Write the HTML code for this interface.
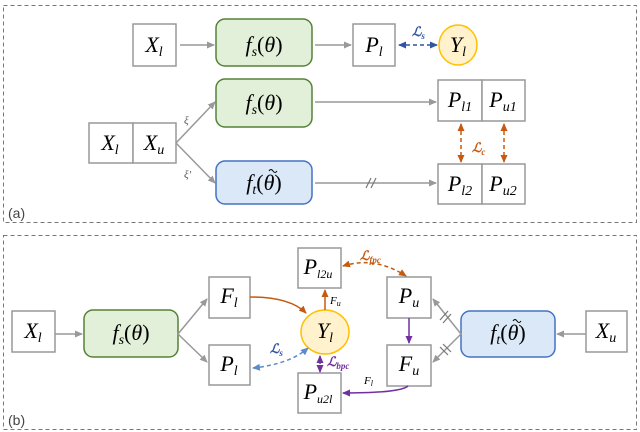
<!DOCTYPE html>
<html><head><meta charset="utf-8"><style>html,body{margin:0;padding:0;background:#fff}svg{display:block}</style></head><body>
<svg width="640" height="432" viewBox="0 0 640 432" xmlns="http://www.w3.org/2000/svg" font-family="Liberation Serif, serif">
<defs>
<marker id="ag" markerWidth="8" markerHeight="8" refX="7" refY="4" orient="auto-start-reverse" markerUnits="userSpaceOnUse"><path d="M0,0.5 L8,4 L0,7.5z" fill="#999"/></marker>
<marker id="ao" markerWidth="8" markerHeight="8" refX="7" refY="4" orient="auto-start-reverse" markerUnits="userSpaceOnUse"><path d="M0,0.5 L8,4 L0,7.5z" fill="#c55a11"/></marker>
<marker id="ab" markerWidth="8" markerHeight="8" refX="7" refY="4" orient="auto-start-reverse" markerUnits="userSpaceOnUse"><path d="M0,0.5 L8,4 L0,7.5z" fill="#2f55a4"/></marker>
<marker id="al" markerWidth="8" markerHeight="8" refX="7" refY="4" orient="auto-start-reverse" markerUnits="userSpaceOnUse"><path d="M0,0.5 L8,4 L0,7.5z" fill="#5b8bc9"/></marker>
<marker id="ap" markerWidth="8" markerHeight="8" refX="7" refY="4" orient="auto-start-reverse" markerUnits="userSpaceOnUse"><path d="M0,0.5 L8,4 L0,7.5z" fill="#7030a0"/></marker>
</defs>
<g fill="none" stroke="#777" stroke-dasharray="4,3" stroke-width="1">
<rect x="3.5" y="5.5" width="633" height="217"/>
<rect x="3.5" y="235.5" width="633" height="194"/>
</g>
<g font-family="Liberation Sans, sans-serif" font-size="14" fill="#444">
<text x="8" y="218">(a)</text><text x="8" y="425">(b)</text>
</g>
<g stroke="#999" stroke-width="1.5" fill="#fff">
<rect x="133" y="24" width="43" height="42"/>
<rect x="353" y="24" width="42" height="42"/>
<rect x="438" y="80" width="44" height="41"/><rect x="482" y="80" width="43" height="41"/>
<rect x="89" y="123" width="44" height="40"/><rect x="133" y="123" width="43" height="40"/>
<rect x="438" y="164" width="44" height="40"/><rect x="482" y="164" width="43" height="40"/>
<rect x="12" y="311" width="43" height="41"/>
<rect x="209" y="277" width="41" height="41"/>
<rect x="209" y="345" width="41" height="40"/>
<rect x="298" y="248" width="43" height="40"/>
<rect x="298" y="373" width="43" height="40"/>
<rect x="387" y="277" width="44" height="41"/>
<rect x="387" y="345" width="44" height="41"/>
<rect x="586" y="311" width="41" height="41"/>
</g>
<g stroke-width="1.5">
<rect x="216" y="19" width="96" height="47" rx="9" fill="#e2efd9" stroke="#548235"/>
<rect x="216" y="79" width="96" height="48" rx="9" fill="#e2efd9" stroke="#548235"/>
<rect x="216" y="161" width="96" height="43" rx="9" fill="#dae8f7" stroke="#4472c4"/>
<rect x="84" y="310" width="94" height="47" rx="9" fill="#e2efd9" stroke="#548235"/>
<rect x="461" y="311" width="94" height="46" rx="9" fill="#dae8f7" stroke="#4472c4"/>
<ellipse cx="458" cy="45" rx="19" ry="20" fill="#fff2cc" stroke="#ffc000"/>
<ellipse cx="325" cy="332" rx="24" ry="22" fill="#fff2cc" stroke="#ffc000"/>
</g>
<g stroke="#999" stroke-width="1.5" fill="none" marker-end="url(#ag)">
<line x1="180" y1="45" x2="214" y2="45"/>
<line x1="315" y1="45" x2="351" y2="45"/>
<line x1="315" y1="102" x2="436" y2="102"/>
<line x1="315" y1="183" x2="436" y2="183"/>
<line x1="176" y1="143" x2="215" y2="102"/>
<line x1="176" y1="143" x2="215" y2="183"/>
<line x1="55" y1="334" x2="82" y2="334"/>
<line x1="178" y1="334" x2="207" y2="299"/>
<line x1="178" y1="334" x2="207" y2="362"/>
<line x1="461" y1="334" x2="433" y2="299"/>
<line x1="461" y1="334" x2="433" y2="362"/>
<line x1="586" y1="334" x2="557" y2="334"/>
</g>
<g stroke="#777" stroke-width="1.2">
<line x1="366" y1="188" x2="371" y2="178"/><line x1="371" y1="188" x2="376" y2="178"/>
<line x1="440" y1="320" x2="448" y2="311"/><line x1="443" y1="323" x2="451" y2="314"/>
<line x1="440" y1="347" x2="448" y2="355"/><line x1="443" y1="344" x2="451" y2="352"/>
</g>
<line x1="399" y1="45" x2="437" y2="45" stroke="#2f55a4" stroke-width="1.5" stroke-dasharray="4,3" marker-start="url(#ab)" marker-end="url(#ab)"/>
<g stroke="#c55a11" stroke-width="1.5" stroke-dasharray="4,3" fill="none" marker-start="url(#ao)" marker-end="url(#ao)">
<line x1="461" y1="124" x2="461" y2="162"/>
<line x1="504" y1="124" x2="504" y2="162"/>
<path d="M343,266 Q375,256 406,276"/>
</g>
<path d="M250,297 Q290,297 306,313" stroke="#c55a11" stroke-width="1.5" fill="none" marker-end="url(#ao)"/>
<line x1="325" y1="310" x2="325" y2="290" stroke="#c55a11" stroke-width="1.5" marker-end="url(#ao)"/>
<path d="M253,368 Q290,364 308,348" stroke="#5b8bc9" stroke-width="1.5" stroke-dasharray="4,3" fill="none" marker-start="url(#al)" marker-end="url(#al)"/>
<line x1="320" y1="356" x2="320" y2="372" stroke="#7030a0" stroke-width="1.5" stroke-dasharray="3,2" marker-start="url(#ap)" marker-end="url(#ap)"/>
<line x1="409" y1="318" x2="409" y2="343" stroke="#7030a0" stroke-width="1.5" marker-end="url(#ap)"/>
<path d="M408,386 Q400,393 343,393" stroke="#7030a0" stroke-width="1.5" fill="none" marker-end="url(#ap)"/>
<g font-style="italic" font-size="22" fill="#000" text-anchor="middle">
<text x="154" y="52">X<tspan font-size="14" dy="4">l</tspan></text>
<text x="264" y="52">f<tspan font-size="14" dy="4">s</tspan><tspan dy="-4" font-style="normal">(</tspan>θ<tspan font-style="normal">)</tspan></text>
<text x="374" y="52">P<tspan font-size="14" dy="4">l</tspan></text>
<text x="458" y="52">Y<tspan font-size="14" dy="4">l</tspan></text>
<text x="264" y="110">f<tspan font-size="14" dy="4">s</tspan><tspan dy="-4" font-style="normal">(</tspan>θ<tspan font-style="normal">)</tspan></text>
<text x="264" y="190">f<tspan font-size="14" dy="4">t</tspan><tspan dy="-4" font-style="normal">(</tspan>θ<tspan font-style="normal">)</tspan></text>
<text x="460" y="107">P<tspan font-size="14" dy="4">l1</tspan></text>
<text x="503" y="107">P<tspan font-size="14" dy="4">u1</tspan></text>
<text x="460" y="191">P<tspan font-size="14" dy="4">l2</tspan></text>
<text x="503" y="191">P<tspan font-size="14" dy="4">u2</tspan></text>
<text x="110" y="150">X<tspan font-size="14" dy="4">l</tspan></text>
<text x="154" y="150">X<tspan font-size="14" dy="4">u</tspan></text>
<text x="33" y="338">X<tspan font-size="14" dy="4">l</tspan></text>
<text x="131" y="340">f<tspan font-size="14" dy="4">s</tspan><tspan dy="-4" font-style="normal">(</tspan>θ<tspan font-style="normal">)</tspan></text>
<text x="229" y="303">F<tspan font-size="14" dy="4">l</tspan></text>
<text x="229" y="371">P<tspan font-size="14" dy="4">l</tspan></text>
<text x="318" y="274">P<tspan font-size="12" dy="4">l2u</tspan></text>
<text x="318" y="399">P<tspan font-size="12" dy="4">u2l</tspan></text>
<text x="325" y="338">Y<tspan font-size="14" dy="4">l</tspan></text>
<text x="409" y="303">P<tspan font-size="14" dy="4">u</tspan></text>
<text x="409" y="371">F<tspan font-size="14" dy="4">u</tspan></text>
<text x="508" y="340">f<tspan font-size="14" dy="4">t</tspan><tspan dy="-4" font-style="normal">(</tspan>θ<tspan font-style="normal">)</tspan></text>
<text x="606" y="338">X<tspan font-size="14" dy="4">u</tspan></text>
</g>
<g stroke="#000" stroke-width="1" fill="none">
<path d="M269,171 q2,-3 4,0 t4,0"/>
<path d="M513,321 q2,-3 4,0 t4,0"/>
</g>
<g font-style="italic" font-size="11" fill="#555">
<text x="184" y="124">ξ</text><text x="184" y="178">ξ′</text>
<text x="330" y="304" fill="#000">F<tspan font-size="8" dy="2">u</tspan></text>
<text x="364" y="384" fill="#000">F<tspan font-size="8" dy="2">l</tspan></text>
</g>
<g font-style="italic" font-weight="bold" font-size="13">
<text x="412" y="36" fill="#2f55a4">ℒ<tspan font-size="9" dy="3">s</tspan></text>
<text x="472" y="152" fill="#c55a11">ℒ<tspan font-size="9" dy="3">c</tspan></text>
<text x="360" y="260" fill="#c55a11">ℒ<tspan font-size="9" dy="3">fpc</tspan></text>
<text x="270" y="353" fill="#2f55a4">ℒ<tspan font-size="9" dy="3">s</tspan></text>
<text x="327" y="366" fill="#7030a0">ℒ<tspan font-size="9" dy="3">bpc</tspan></text>
</g>
</svg>
</body></html>
